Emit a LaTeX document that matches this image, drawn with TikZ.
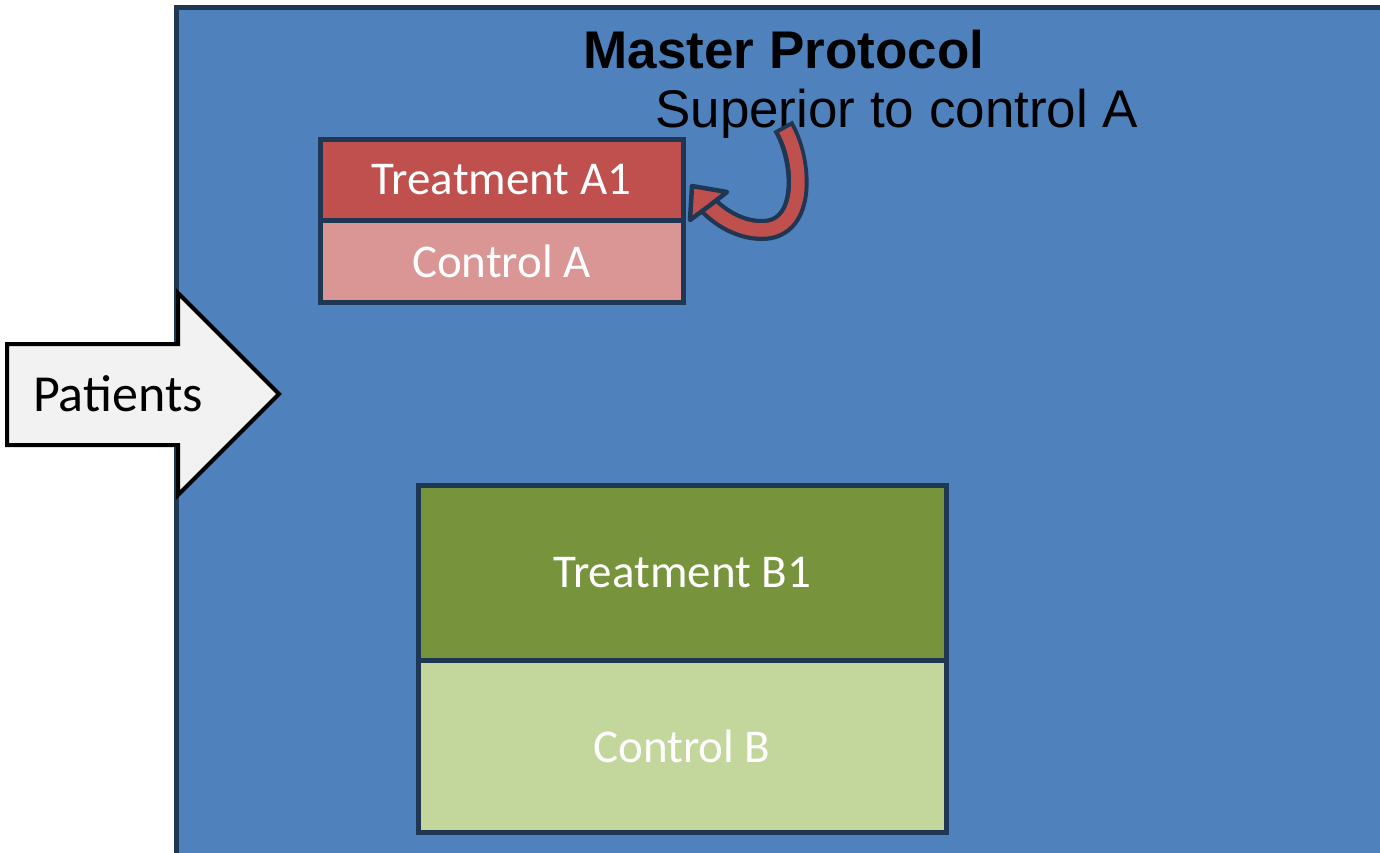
\documentclass[tikz,border=0pt]{standalone}
\usepackage{fontspec}
\setmainfont{Carlito}
\newfontfamily\arialfont{Liberation Sans}
\definecolor{protoblue}{HTML}{4F81BD}
\definecolor{edgeblue}{HTML}{1F3752}
\definecolor{armred}{HTML}{C0504D}
\definecolor{armpink}{HTML}{D99694}
\definecolor{armgreen}{HTML}{77933C}
\definecolor{armlime}{HTML}{C3D69B}
\definecolor{arrowgray}{HTML}{F2F2F2}
\begin{document}
\begin{tikzpicture}[x=1pt,y=-1pt,
  arm/.style={draw=edgeblue,line width=5pt,text=white,inner sep=0pt,
    minimum width=#1,font=\fontsize{47}{56}\selectfont},
  arm/.default=363pt]
  \useasboundingbox (0,0) rectangle (1380,852);
  \clip (0,0) rectangle (1380,852);
  \draw[fill=protoblue,draw=edgeblue,line width=5pt] (176,7.5) rectangle (1400,880);
  \draw[fill=arrowgray,draw=black,line width=4pt,line join=miter]
    (7,344) -- (178,344) -- (178,293) -- (279,394) -- (178,495) -- (178,445) -- (7,445) -- cycle;
  \node[font=\fontsize{52}{60}\selectfont] (pat) at (118,394) {Patients};
  \node[arm,fill=armred,minimum height=80.5pt] (ta) at (501.5,179.75) {Treatment A1};
  \node[arm,fill=armpink,minimum height=82.5pt] (ca) at (501.5,261.25) {Control A};
  \node[arm=528pt,fill=armgreen,minimum height=174.5pt] (tb) at (682,572.75) {Treatment B1};
  \node[arm=528pt,fill=armlime,minimum height=172.5pt] (cb) at (682,746.25) {Control B};
  \node[font=\arialfont\bfseries\fontsize{53}{60}\selectfont,anchor=base,inner sep=0pt] (mp) at (784,68) {Master Protocol};
  \node[font=\arialfont\fontsize{53}{60}\selectfont,anchor=base west,inner sep=0pt] (sup) at (655,127) {Superior to control A};
  \coordinate (tail) at (783,126);
  \coordinate (neck) at (709,206);
  \draw[edgeblue,line width=22pt] (tail) .. controls (803,160) and (808,230) .. (762,230) .. controls (740,230) and (721,218) .. (neck);
  \draw[armred,line width=13.5pt,shorten <=4pt] (tail) .. controls (803,160) and (808,230) .. (762,230) .. controls (740,230) and (721,218) .. (neck);
  \draw[fill=armred,draw=edgeblue,line width=4.5pt,line join=round] (692,186) -- (727,192) -- (neck) -- (690,220) -- cycle;
\end{tikzpicture}
\end{document}
